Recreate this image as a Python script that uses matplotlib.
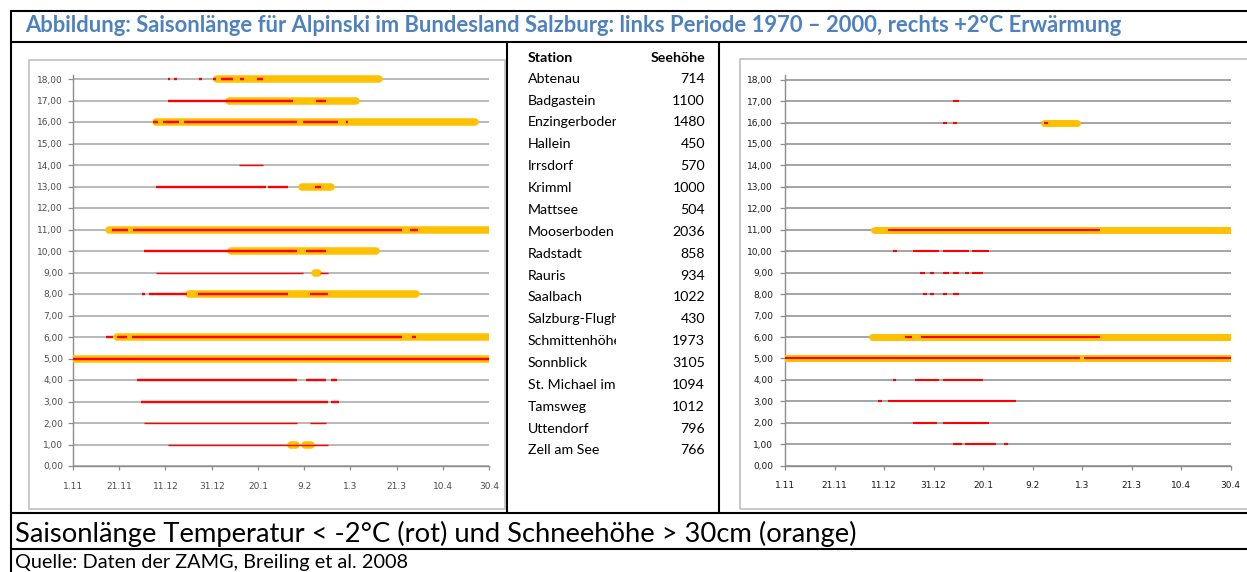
import matplotlib
matplotlib.use("Agg")
import matplotlib.pyplot as plt
from matplotlib.lines import Line2D
from matplotlib.patches import Rectangle

# ---------------- data ----------------
stations = ["Abtenau", "Badgastein", "Enzingerboden", "Hallein", "Irrsdorf", "Krimml",
            "Mattsee", "Mooserboden", "Radstadt", "Rauris", "Saalbach", "Salzburg-Flughafen",
            "Schmittenhöhe", "Sonnblick", "St. Michael im Lungau", "Tamsweg", "Uttendorf",
            "Zell am See"]
elevations = [714, 1100, 1480, 450, 570, 1000, 504, 2036, 858, 934, 1022, 430, 1973,
              3105, 1094, 1012, 796, 766]
row_values = [18, 17, 16, 15, 14, 13, 12, 11, 10, 9, 8, 7, 6, 5, 4, 3, 2, 1]

# days after 1 Nov
xtick_days = [0, 20, 40, 60, 80, 100, 120, 140, 160, 180]
xtick_labels = ["1.11", "21.11", "11.12", "31.12", "20.1", "9.2", "1.3", "21.3", "10.4", "30.4"]
ytick_values = list(range(0, 19))
ytick_labels = [f"{v},00" for v in ytick_values]

# left chart: period 1970-2000
left_red = [
    [(41, 42), (43.7, 44.8), (54.7, 56), (60.5, 62), (64, 69.4), (72.3, 74), (79.5, 82)],
    [(41, 95.2), (105, 109.5)],
    [(34.8, 36.9), (39, 46), (48, 97), (99.7, 114.8), (118, 119.2)],
    [],
    [(71.8, 82.4)],
    [(36, 83.5), (84.5, 93.2), (104.7, 107.2)],
    [],
    [(16.7, 23.9), (25.8, 142.2), (145.8, 149.4)],
    [(30.7, 97.1), (100.8, 109.5)],
    [(36, 99.4), (106.9, 110.5)],
    [(29.7, 31.2), (33, 49.2), (54.2, 93.2), (102.6, 110.5)],
    [],
    [(14.3, 17.5), (18.9, 23.2), (25.4, 142.2), (146.5, 148.4)],
    [(0, 180)],
    [(27.5, 97.1), (100.8, 109.5), (111.5, 114.4)],
    [(29.3, 110.5), (111.5, 115.2)],
    [(30.7, 97.1), (102.6, 109.5)],
    [(41, 110.5)],
]
left_orange = [
    [(62.3, 132.6)],
    [(67.5, 122.5)],
    [(35.8, 174)],
    [],
    [],
    [(99.2, 111.8)],
    [],
    [(15.5, 180)],
    [(68.2, 131)],
    [(104.8, 106.2)],
    [(50.2, 148.6)],
    [],
    [(19.2, 180)],
    [(0, 180)],
    [],
    [],
    [],
    [(94.2, 96.6), (100.6, 103.1)],
]

# right chart: +2°C warming
right_red = [
    [],
    [(68, 70.4)],
    [(63.9, 65.3), (68, 69.3), (104.7, 106.4)],
    [],
    [],
    [],
    [],
    [(41.7, 127.2)],
    [(43.8, 45.1), (51.8, 62.3), (64, 74.3), (75.7, 82.4)],
    [(54.5, 56.5), (58.6, 60.3), (64, 66.4), (67.7, 70.4), (72.7, 74.4), (75.7, 80.1)],
    [(55.9, 57.2), (58.6, 60.3), (64, 65.3), (67.7, 70.3)],
    [],
    [(48.5, 51.2), (54.8, 127.2)],
    [(0, 119.1), (120.8, 180)],
    [(43.8, 44.8), (52.5, 62.2), (64, 80.1)],
    [(37.7, 39.3), (41.7, 93.2)],
    [(51.8, 61.3), (64, 82.4)],
    [(68, 71.4), (72.7, 85.1), (88.6, 90.2)],
]
right_orange = [
    [], [], [(104.8, 117.9)], [], [], [], [], [(35.8, 180)], [], [], [], [],
    [(35.2, 180)], [(0, 180)], [], [], [], [],
]

title = ("Abbildung: Saisonlänge für Alpinski im Bundesland Salzburg: links Periode "
         "1970 – 2000, rechts +2°C Erwärmung")
caption = "Saisonlänge Temperatur < -2°C (rot) und Schneehöhe > 30cm (orange)"
source = "Quelle: Daten der ZAMG, Breiling et al. 2008"

# ---------------- style ----------------
W, H = 1247, 572
RED = "#FF0000"
ORANGE = "#FFC000"
TEXTFONT = "Lato"
thin_red_rows = {"Irrsdorf", "Rauris", "Uttendorf", "Zell am See"}

fig = plt.figure(figsize=(W / 100, H / 100), dpi=100)
fig.patch.set_facecolor("white")
renderer = fig.canvas.get_renderer()


def fx(px):
    return px / W


def fy(py):
    return 1 - py / H


def fit_width(t, target_px):
    bb = t.get_window_extent(renderer=renderer)
    t.set_fontsize(t.get_fontsize() * target_px / bb.width)
    return t


def hline(y, x0, x1, lw=1.5, color="black"):
    fig.add_artist(Line2D([fx(x0), fx(x1)], [fy(y), fy(y)], transform=fig.transFigure,
                          color=color, lw=lw, solid_capstyle="butt"))


def vline(x, y0, y1, lw=1.5, color="black"):
    fig.add_artist(Line2D([fx(x), fx(x)], [fy(y0), fy(y1)], transform=fig.transFigure,
                          color=color, lw=lw, solid_capstyle="butt"))


# frame
hline(11, 10, W + 5)
vline(11, 10, H + 5)
hline(42, 11, W + 5)
vline(507, 42, 513)
vline(719, 42, 513)
hline(513, 11, W + 5)
hline(549, 11, W + 5)

# chart boxes
fig.add_artist(Rectangle((fx(29), fy(509)), fx(505) - fx(29), fy(60) - fy(509),
                         transform=fig.transFigure, fill=False, edgecolor="#C4C4C4", lw=1.3))
fig.add_artist(Rectangle((fx(740), fy(509)), fx(1262) - fx(740), fy(59) - fy(509),
                         transform=fig.transFigure, fill=False, edgecolor="#C4C4C4", lw=1.3))

# texts
t = fig.text(fx(25), fy(32), title, fontfamily=TEXTFONT, fontweight="bold",
             color="#4F81BD", fontsize=14, va="baseline", ha="left")
fit_width(t, 1105)
t = fig.text(fx(15), fy(542), caption, fontfamily=TEXTFONT, color="black",
             fontsize=18, va="baseline", ha="left")
fit_width(t, 843)
t = fig.text(fx(15), fy(568), source, fontfamily=TEXTFONT, color="black",
             fontsize=11, va="baseline", ha="left")
fit_width(t, 393)

# table
probe = fig.text(0, 0, "Abtenau", fontfamily=TEXTFONT, fontsize=10)
fit_width(probe, 53)
tfs = probe.get_fontsize()
probe.remove()
clip_rect = Rectangle((fx(520), 0), fx(616) - fx(520), 1, transform=fig.transFigure,
                      visible=False)
fig.add_artist(clip_rect)
fig.text(fx(528), fy(61.7), "Station", fontfamily=TEXTFONT, fontweight="bold",
         fontsize=tfs, va="baseline", ha="left")
fig.text(fx(705), fy(61.7), "Seehöhe", fontfamily=TEXTFONT, fontweight="bold",
         fontsize=tfs, va="baseline", ha="right")
for i, (name, elev) in enumerate(zip(stations, elevations)):
    yb = 82.7 + i * 21.87
    tn = fig.text(fx(528), fy(yb), name, fontfamily=TEXTFONT, fontsize=tfs,
                  va="baseline", ha="left", clip_on=True)
    tn.set_clip_path(clip_rect)
    fig.text(fx(705), fy(yb), str(elev), fontfamily=TEXTFONT, fontsize=tfs,
             va="baseline", ha="right")


def make_chart(rect, red, orange, grid_color, tick_color, red_lw, thin_lw, orange_lw,
               ypad, xpad):
    ax = fig.add_axes(rect)
    ax.set_facecolor("white")
    ax.set_xlim(0, 180)
    ax.set_ylim(0, 18.2)
    ax.set_yticks(ytick_values)
    ax.set_yticklabels(ytick_labels)
    ax.set_xticks(xtick_days)
    ax.set_xticklabels(xtick_labels)
    ax.yaxis.grid(True, color=grid_color, lw=1.1)
    ax.set_axisbelow(True)
    for s in ("top", "right"):
        ax.spines[s].set_visible(False)
    for s in ("left", "bottom"):
        ax.spines[s].set_color("#8C8C8C")
        ax.spines[s].set_linewidth(1.0)
    ax.tick_params(axis="y", direction="out", length=3.6, width=0.9, color="#8C8C8C",
                   labelsize=6.5, labelcolor=tick_color, pad=ypad)
    ax.tick_params(axis="x", direction="out", length=3.0, width=0.9, color="#8C8C8C",
                   labelsize=6.5, labelcolor=tick_color, pad=xpad)
    for lab in ax.get_xticklabels() + ax.get_yticklabels():
        lab.set_fontfamily("DejaVu Sans")
    for name, y, segs in zip(stations, row_values, orange):
        for a, b in segs:
            ax.plot([a, b], [y, y], color=ORANGE, lw=orange_lw, solid_capstyle="round",
                    zorder=3)
    for name, y, segs in zip(stations, row_values, red):
        lw = thin_lw if name in thin_red_rows else red_lw
        for a, b in segs:
            ax.plot([a, b], [y, y], color=RED, lw=lw, solid_capstyle="butt", zorder=4)
    return ax


top_px = 466 - 18.2 * 21.5
make_chart([fx(73), fy(466), fx(489) - fx(73), fy(top_px) - fy(466)],
           left_red, left_orange, "#A6A6A6", "#4D4D4D", 1.7, 1.0, 5.4, 3.6, 8.6)
top_px_r = 465.7 - 18.2 * 21.45
make_chart([fx(785), fy(465.7), fx(1230.7) - fx(785), fy(top_px_r) - fy(465.7)],
           right_red, right_orange, "#8C8C8C", "#1A1A1A", 1.5, 1.5, 5.0, 5.0, 8.0)

fig.savefig("out.png", dpi=100, facecolor="white")
